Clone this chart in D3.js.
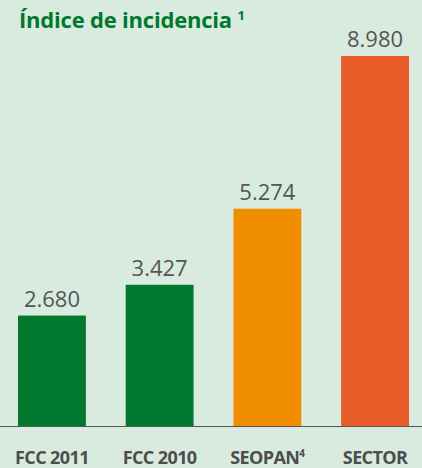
<!DOCTYPE html>
<html>
<head>
<meta charset="utf-8">
<script src="https://cdn.jsdelivr.net/npm/d3@7"></script>
<style>
  html, body { margin: 0; padding: 0; background: #d9ebdf; }
  svg { display: block; font-family: "Open Sans", sans-serif; }
</style>
</head>
<body>
<div id="chart"></div>
<script>
// chart data
let categories = ["FCC 2011", "FCC 2010", "SEOPAN", "SECTOR"];
let values = [2680, 3427, 5274, 8980];
let valueLabels = ["2.680", "3.427", "5.274", "8.980"];
let superscripts = ["", "", "4", ""];
let barColors = ["#00792f", "#00792f", "#f18e00", "#e95d2a"];

let width = 422;
let height = 468;
let margin = {top: 56, bottom: 42, left: 18, right: 13};

let svg = d3.select("#chart")
    .append("svg")
    .attr("width", width)
    .attr("height", height);

svg.append("rect")
    .attr("width", width)
    .attr("height", height)
    .attr("fill", "#d9ebdf");

// bars span 18..409, each 68 wide
let x = d3.scaleBand()
    .domain(d3.range(categories.length))
    .range([margin.left, width - margin.right])
    .paddingInner(0.37)
    .paddingOuter(0);

let y = d3.scaleLinear()
    .domain([0, 8980])
    .range([height - margin.bottom, margin.top]);

// bars
svg.append("g")
    .selectAll("rect")
    .data(values)
    .join("rect")
        .attr("x", (d, i) => x(i))
        .attr("y", d => y(d))
        .attr("width", x.bandwidth())
        .attr("height", d => y(0) - y(d))
        .attr("fill", (d, i) => barColors[i]);

// value labels
svg.append("g")
    .selectAll("text")
    .data(values)
    .join("text")
        .attr("x", (d, i) => x(i) + x.bandwidth() / 2)
        .attr("y", d => y(d) - 9)
        .attr("text-anchor", "middle")
        .attr("font-size", "22px")
        .attr("fill", "#555555")
        .text((d, i) => valueLabels[i]);

// baseline
svg.append("line")
    .attr("x1", 0)
    .attr("x2", width)
    .attr("y1", y(0) + 0.5)
    .attr("y2", y(0) + 0.5)
    .attr("stroke", "#555555")
    .attr("stroke-width", 1);

// category labels
let cat = svg.append("g")
    .selectAll("text")
    .data(categories)
    .join("text")
        .attr("x", (d, i) => x(i) + x.bandwidth() / 2)
        .attr("y", 464)
        .attr("text-anchor", "middle")
        .attr("font-size", "18px")
        .attr("font-weight", "bold")
        .attr("letter-spacing", "-0.6px")
        .attr("fill", "#4d4d4d");

cat.append("tspan").text(d => d);
cat.append("tspan")
    .attr("font-size", "10px")
    .attr("dy", -7)
    .text((d, i) => superscripts[i]);

// title
let title = svg.append("text")
    .attr("x", 19)
    .attr("y", 28)
    .attr("font-size", "22px")
    .attr("font-weight", "bold")
    .attr("letter-spacing", "-0.2px")
    .attr("fill", "#00792f");
title.append("tspan").text("Índice de incidencia ");
title.append("tspan")
    .attr("font-size", "13px")
    .attr("dy", -8)
    .text("1");
</script>
</body>
</html>
